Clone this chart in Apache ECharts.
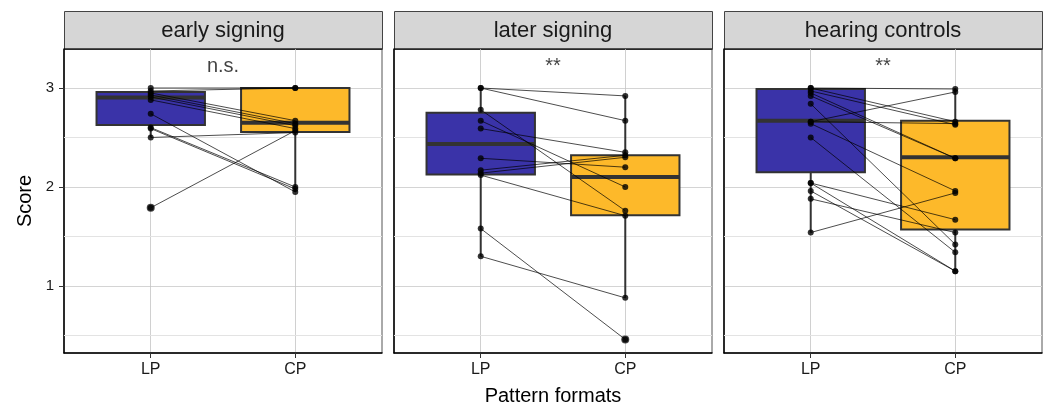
<!DOCTYPE html>
<html>
<head>
<meta charset="utf-8">
<script src="https://cdn.jsdelivr.net/npm/echarts@6/dist/echarts.min.js"></script>
<style>
  html, body { margin: 0; padding: 0; background: #fff; }
  #chart { width: 1049px; height: 406px; }
</style>
</head>
<body>
<div id="chart"></div>
<script>
// panel titles, x categories and significance labels
const panels = ["early signing", "later signing", "hearing controls"];
const formats = ["LP", "CP"];
const annotations = ["n.s.", "**", "**"];
const yTicks = [1, 2, 3];
const minorTicks = [0.5, 1.5, 2.5];

// paired scores per participant (LP score, CP score)
const earlyLP = [3.0, 2.97, 2.95, 2.93, 2.91, 2.88, 2.74, 2.60, 2.59, 2.50, 1.79];
const earlyCP = [3.0, 3.0, 2.67, 2.64, 2.62, 2.59, 1.95, 2.0, 1.98, 2.55, 2.57];
const laterLP = [3.0, 3.0, 2.78, 2.67, 2.59, 2.29, 2.17, 2.14, 2.12, 1.58, 1.30];
const laterCP = [2.92, 2.67, 1.76, 2.0, 2.35, 2.20, 2.32, 2.30, 1.71, 0.46, 0.88];
const hearingLP = [3.0, 3.0, 2.97, 2.95, 2.92, 2.84, 2.66, 2.66, 2.64, 2.50, 2.04, 2.04, 1.96, 1.88, 1.54];
const hearingCP = [2.99, 2.66, 2.63, 2.29, 2.29, 1.42, 2.96, 2.64, 1.96, 1.34, 1.67, 1.15, 1.15, 1.54, 1.94];

// box stats: [lower whisker, Q1, median, Q3, upper whisker]
const earlyBoxLP = [2.50, 2.625, 2.905, 2.96, 3.0];
const earlyBoxCP = [1.95, 2.555, 2.65, 3.0, 3.0];
const laterBoxLP = [1.30, 2.125, 2.435, 2.75, 3.0];
const laterBoxCP = [0.88, 1.715, 2.10, 2.32, 2.92];
const hearingBoxLP = [1.54, 2.15, 2.67, 2.99, 3.0];
const hearingBoxCP = [1.15, 1.57, 2.30, 2.67, 3.0];

// outliers drawn by the boxplot: [format index (1=LP, 2=CP), score]
const earlyOutliers = [[1, 1.79]];
const laterOutliers = [[2, 0.46]];
const hearingOutliers = [];

const lpData = [earlyLP, laterLP, hearingLP];
const cpData = [earlyCP, laterCP, hearingCP];
const boxLP = [earlyBoxLP, laterBoxLP, hearingBoxLP];
const boxCP = [earlyBoxCP, laterBoxCP, hearingBoxCP];
const outliers = [earlyOutliers, laterOutliers, hearingOutliers];

const fills = ["#3A33A8", "#FDB92A"];
const FONT = "Liberation Sans";
const Y_MIN = 0.323, Y_MAX = 3.394;
const PANEL_LEFT = 64, PANEL_W = 318, PANEL_GAP = 12, PANEL_TOP = 49, PANEL_H = 304;

const chart = echarts.init(document.getElementById("chart"));

function renderBox(params, api) {
  const x = api.value(0);
  const lo = api.coord([x, api.value(1)]);
  const q1 = api.coord([x, api.value(2)]);
  const med = api.coord([x, api.value(3)]);
  const q3 = api.coord([x, api.value(4)]);
  const hi = api.coord([x, api.value(5)]);
  const w = api.size([0.75, 0])[0];
  const stroke = "#333333";
  return {
    type: "group",
    children: [
      { type: "line", shape: { x1: lo[0], y1: lo[1], x2: q1[0], y2: q1[1] }, style: { stroke: stroke, lineWidth: 2 } },
      { type: "line", shape: { x1: q3[0], y1: q3[1], x2: hi[0], y2: hi[1] }, style: { stroke: stroke, lineWidth: 2 } },
      { type: "rect", shape: { x: q3[0] - w / 2, y: q3[1], width: w, height: q1[1] - q3[1] },
        style: { fill: fills[params.dataIndex], stroke: stroke, lineWidth: 2 } },
      { type: "line", shape: { x1: med[0] - w / 2, y1: med[1], x2: med[0] + w / 2, y2: med[1] },
        style: { stroke: stroke, lineWidth: 4 } }
    ]
  };
}

function renderPair(params, api) {
  const a = api.coord([1, api.value(0)]);
  const b = api.coord([2, api.value(1)]);
  return {
    type: "line",
    shape: { x1: a[0], y1: a[1], x2: b[0], y2: b[1] },
    style: { stroke: "#000", lineWidth: 0.7 }
  };
}

function renderMinor(params, api) {
  const a = api.coord([0.4, api.value(0)]);
  const b = api.coord([2.6, api.value(0)]);
  return {
    type: "line",
    shape: { x1: a[0], y1: a[1], x2: b[0], y2: b[1] },
    style: { stroke: "#e3e3e3", lineWidth: 1 }
  };
}

const grid = [], xAxis = [], yAxis = [], series = [], graphic = [];

panels.forEach((name, i) => {
  const left = PANEL_LEFT + i * (PANEL_W + PANEL_GAP);
  grid.push({
    left: left, top: PANEL_TOP, width: PANEL_W, height: PANEL_H,
    outerBoundsMode: "none", containLabel: false,
    show: true, borderColor: "#555", borderWidth: 1, backgroundColor: "#fff"
  });
  xAxis.push({
    gridIndex: i, type: "value", min: 0.4, max: 2.6,
    name: i === 1 ? "Pattern formats" : "",
    nameLocation: "middle", nameGap: 33,
    nameTextStyle: { fontSize: 20, color: "#000", fontFamily: FONT },
    axisLine: { show: true, onZero: false, lineStyle: { color: "#000", width: 1.5 } },
    axisTick: { show: true, length: 5, customValues: [1, 2], lineStyle: { color: "#333" } },
    axisLabel: {
      customValues: [1, 2], margin: 9, fontSize: 16, color: "#1a1a1a", fontFamily: FONT,
      formatter: v => formats[Math.round(v) - 1]
    },
    splitLine: { show: true, lineStyle: { color: "#c4c4c4", width: 0.8 } }
  });
  yAxis.push({
    gridIndex: i, type: "value", min: Y_MIN, max: Y_MAX,
    name: i === 0 ? "Score" : "",
    nameLocation: "middle", nameGap: 29,
    nameTextStyle: { fontSize: 20, color: "#000", fontFamily: FONT },
    axisLine: { show: true, lineStyle: { color: "#000", width: 1.5 } },
    axisTick: { show: i === 0, length: 5, customValues: yTicks, lineStyle: { color: "#333" } },
    axisLabel: { show: i === 0, customValues: yTicks, margin: 10, fontSize: 15, color: "#1a1a1a", fontFamily: FONT },
    splitLine: { show: true, lineStyle: { color: "#d4d4d4", width: 1 } }
  });

  series.push({
    type: "custom", xAxisIndex: i, yAxisIndex: i, silent: true, z: 1,
    renderItem: renderMinor, data: minorTicks.map(v => [v]),
    encode: { y: 0 }
  });
  series.push({
    type: "custom", xAxisIndex: i, yAxisIndex: i, silent: true, z: 2,
    renderItem: renderBox,
    data: [[1].concat(boxLP[i]), [2].concat(boxCP[i])],
    encode: { x: 0, y: [1, 2, 3, 4, 5] }
  });
  series.push({
    type: "scatter", xAxisIndex: i, yAxisIndex: i, silent: true, z: 3,
    symbolSize: 8, itemStyle: { color: "#151515" },
    data: outliers[i]
  });
  series.push({
    type: "custom", xAxisIndex: i, yAxisIndex: i, silent: true, z: 4,
    renderItem: renderPair,
    data: lpData[i].map((v, k) => [v, cpData[i][k]]),
    encode: { y: [0, 1] }
  });
  series.push({
    type: "scatter", xAxisIndex: i, yAxisIndex: i, silent: true, z: 5,
    symbolSize: 6, itemStyle: { color: "#000" },
    data: lpData[i].map(v => [1, v]).concat(cpData[i].map(v => [2, v]))
  });
  series.push({
    type: "scatter", xAxisIndex: i, yAxisIndex: i, silent: true, z: 6,
    symbolSize: 1, itemStyle: { color: "transparent" },
    label: {
      show: true, position: "inside", formatter: annotations[i],
      fontSize: 20, color: "#111", fontFamily: FONT
    },
    data: [[1.5, 3.22]]
  });

  graphic.push({
    type: "rect", left: left, top: 11,
    shape: { width: PANEL_W, height: PANEL_TOP - 11 },
    style: { fill: "#d6d6d6", stroke: "#444", lineWidth: 1 }
  });
  graphic.push({
    type: "line",
    shape: { x1: left, y1: PANEL_TOP, x2: left + PANEL_W, y2: PANEL_TOP },
    style: { stroke: "#222", lineWidth: 1.5 }
  });
  graphic.push({
    type: "text", x: left + PANEL_W / 2, y: 31,
    style: {
      text: name, fontSize: 22, fill: "#1a1a1a", fontFamily: FONT,
      textAlign: "center", textVerticalAlign: "middle"
    }
  });
});

chart.setOption({
  animation: false,
  textStyle: { fontFamily: FONT },
  grid: grid,
  xAxis: xAxis,
  yAxis: yAxis,
  series: series,
  graphic: graphic
});
</script>
</body>
</html>
